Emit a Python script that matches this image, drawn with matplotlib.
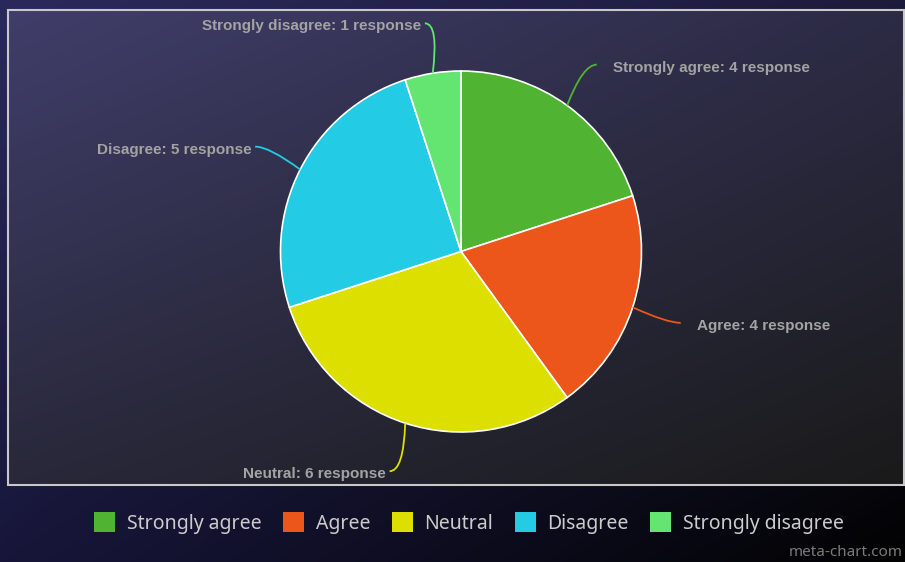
import numpy as np
import matplotlib
matplotlib.use('Agg')
import matplotlib.pyplot as plt
from matplotlib.patches import Rectangle, Patch, PathPatch
from matplotlib.path import Path
from matplotlib.colors import to_rgb

# 问卷结果
categories = ['Strongly agree', 'Agree', 'Neutral', 'Disagree', 'Strongly disagree']
responses = [4, 4, 6, 5, 1]
colors = ['#50B432', '#ED561B', '#DDDF00', '#24CBE5', '#64E572']

W, H = 905, 562
fig = plt.figure(figsize=(W / 100, H / 100), dpi=100)
ax = fig.add_axes([0, 0, 1, 1])


def corner_gradient(tl, tr, bl, br, n=256):
    # 四角颜色双线性插值
    tl, tr, bl, br = [np.array(to_rgb(c)) for c in (tl, tr, bl, br)]
    u = np.linspace(0, 1, n)[None, :, None]
    v = np.linspace(0, 1, n)[:, None, None]
    top = tl * (1 - u) + tr * u
    bottom = bl * (1 - u) + br * u
    return top * (1 - v) + bottom * v


# 背景（外层 + 绘图区）
ax.imshow(corner_gradient('#2b295c', '#1c1b3b', '#17163a', '#020202'),
          extent=(0, W, 0, H), origin='upper', aspect='auto', zorder=0)
px0, py0, px1, py1 = 8, H - 485, 904, H - 10
ax.imshow(corner_gradient('#403e6a', '#2c2b45', '#28283a', '#1a1a1a'),
          extent=(px0, px1, py0, py1), origin='upper', aspect='auto', zorder=0)
ax.add_patch(Rectangle((px0, py0), px1 - px0, py1 - py0, fill=False,
                       edgecolor='#c8c8c8', linewidth=1.5, zorder=1))

# 饼图
cx, cy, R = 461, H - 251.5, 180.5
wedges, _ = ax.pie(responses, colors=colors, startangle=90, counterclock=False,
                   radius=R, center=(cx, cy),
                   wedgeprops=dict(edgecolor='white', linewidth=1.2))

# 引导线和数据标签
for w, name, n, col in zip(wedges, categories, responses, colors):
    mid = np.deg2rad((w.theta1 + w.theta2) / 2)
    c, s = np.cos(mid), np.sin(mid)
    side = 1 if c >= 0 else -1
    sx, sy = cx + R * c, cy + R * s
    ex, ey = cx + 1.28 * R * c, cy + 1.28 * R * s
    path = Path([(sx, sy), (ex - side * 14, ey), (ex, ey)],
                [Path.MOVETO, Path.CURVE3, Path.CURVE3])
    ax.add_patch(PathPatch(path, fill=False, edgecolor=col, linewidth=1.3, zorder=3))
    tx = ex + (16 if side > 0 else -4)
    ax.text(tx, ey - 3, f'{name}: {n} response', ha='left' if side > 0 else 'right',
            va='center', fontsize=11, fontweight='bold', color='#a3a3a3',
            family='Liberation Sans', zorder=4)

ax.set_xlim(0, W)
ax.set_ylim(0, H)
ax.set_aspect('auto')
ax.axis('off')

# 图例
handles = [Patch(facecolor=c, edgecolor='none') for c in colors]
fig.legend(handles, categories, loc='center', bbox_to_anchor=(469 / W, 1 - 523 / H),
           ncol=5, frameon=False, labelcolor='#cccccc',
           handlelength=1.08, handleheight=1.15, handletextpad=0.6,
           columnspacing=1.1, prop={'family': 'Noto Sans', 'size': 14})

fig.text(1 - 2 / W, 10 / H, 'meta-chart.com', fontsize=11, color='#7a7a7a',
         family='Noto Sans', ha='right', va='center')

fig.savefig('out.png', dpi=100)
